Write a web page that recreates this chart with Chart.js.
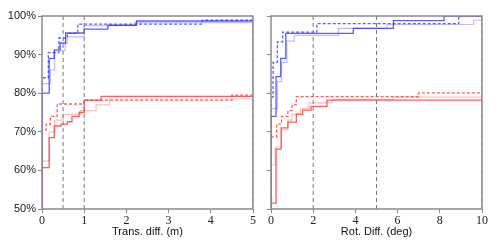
<!DOCTYPE html>
<html>
<head>
<meta charset="utf-8">
<script src="https://cdn.jsdelivr.net/npm/chart.js@4.4.1/dist/chart.umd.min.js"></script>
<style>
  html, body { margin: 0; padding: 0; background: #fff; }
  #wrap { position: relative; width: 500px; height: 250px; }
  canvas { position: absolute; top: 0; }
</style>
</head>
<body>
<div id="wrap">
  <canvas id="transChart" width="262" height="250" style="left:0"></canvas>
  <canvas id="rotChart" width="238" height="250" style="left:262px"></canvas>
</div>
<script>
// Step CDFs: [threshold, percent below]
const transBlueSolid  = [[0,0],[0,80],[0.17,89],[0.29,91.2],[0.43,93],[0.56,95.6],[1.0,96.6],[1.56,97.6],[2.24,98.7],[5,98.8]];
const transBlueDashed = [[0,0],[0,84],[0.15,90.5],[0.4,94.3],[0.6,95.5],[0.85,97.9],[3.8,98.9],[5,100]];
const transBlueLight  = [[0,0],[0,82.5],[0.2,86],[0.3,91],[0.55,93],[0.6,94.6],[1.0,97.5],[2.2,98.3],[5,98.5]];
const transRedSolid   = [[0,0],[0,60.7],[0.17,68.5],[0.29,71.5],[0.45,72],[0.6,72.6],[0.71,74],[0.88,75],[1.0,78.2],[1.4,79.2],[5,79.3]];
const transRedDashed  = [[0,0],[0,70.5],[0.1,72],[0.2,74],[0.36,77.2],[1.0,78.2],[4.5,79.5],[5,79.5]];
const transRedLight   = [[0,0],[0,62.4],[0.17,70],[0.3,73],[0.5,74.5],[0.9,75.5],[1.28,77],[1.6,78.5],[5,78.5]];

const rotBlueSolid  = [[0,0],[0,74],[0.24,84.3],[0.46,89],[0.7,95.5],[3.9,96.8],[5.8,98.8],[8.2,100],[10,100]];
const rotBlueDashed = [[0,0],[0,79],[0.1,88],[0.3,93.3],[0.55,95.8],[2.17,98],[8.9,100],[10,100]];
const rotBlueLight  = [[0,0],[0,76],[0.3,83],[0.5,88],[0.75,93.5],[1.1,95],[3.2,96.8],[5.5,97.8],[9.6,98.9],[10,99.5]];
const rotRedSolid   = [[0,0],[0,51.5],[0.24,65.5],[0.48,71],[0.8,72.5],[1.2,74.6],[1.5,75.6],[1.9,76.6],[2.65,78.2],[10,78.3]];
const rotRedDashed  = [[0,0],[0,68.7],[0.27,72],[0.5,74],[0.8,75.5],[1.0,77],[1.2,79.1],[7,80.1],[10,80.2]];
const rotRedLight   = [[0,0],[0,61.4],[0.2,66],[0.5,70.5],[0.8,73],[1.0,74.5],[1.4,76],[1.8,77.5],[2.9,78.4],[5.8,79],[10,79]];

// Dashed vertical reference lines
const transThresholds = [0.5, 1, 5];
const rotThresholds = [2, 5, 10];

const yTicks = [50, 60, 70, 80, 90, 100];
const transXTicks = [0, 1, 2, 3, 4, 5];
const rotXTicks = [0, 2, 4, 6, 8, 10];

const FRAME = '#8a8a8a';
const BLUE = 'rgba(40,40,255,0.75)';
const BLUE_LIGHT = 'rgba(40,40,255,0.3)';
const RED = 'rgba(255,40,40,0.75)';
const RED_LIGHT = 'rgba(255,40,40,0.3)';

// Draw the full box round the plot area
const framePlugin = {
  id: 'frame',
  afterDatasetsDraw(chart) {
    const { ctx, chartArea: a } = chart;
    ctx.save();
    ctx.strokeStyle = FRAME;
    ctx.lineWidth = 1.5;
    ctx.strokeRect(a.left, a.top, a.right - a.left, a.bottom - a.top);
    ctx.restore();
  }
};

// value holds until the next threshold, then jumps
function stepSet(points, color, dashed, width) {
  return {
    data: points.map(p => ({ x: p[0], y: p[1] })),
    borderColor: color,
    borderWidth: width || 1.3,
    borderDash: dashed ? [3, 2] : [],
    stepped: 'before',
    pointRadius: 0,
    fill: false
  };
}

function refLines(xs) {
  return xs.map(x => ({
    data: [{ x, y: 50 }, { x, y: 100 }],
    borderColor: '#777',
    borderWidth: 1,
    borderDash: [4, 3],
    pointRadius: 0,
    fill: false
  }));
}

function drawPanel(canvasId, series, thresholds, xTicks, xMax, title, showY, yWidth, padRight) {
  const ctx = document.getElementById(canvasId);
  return new Chart(ctx, {
    type: 'line',
    data: { datasets: [...refLines(thresholds), ...series] },
    options: {
      responsive: false,
      animation: false,
      layout: { padding: { top: 16, right: padRight, left: 0, bottom: 0 } },
      plugins: { legend: { display: false }, tooltip: { enabled: false } },
      scales: {
        x: {
          type: 'linear',
          min: 0,
          max: xMax,
          afterBuildTicks: s => { s.ticks = xTicks.map(v => ({ value: v })); },
          afterFit: s => { s.height = 41; },
          grid: { drawOnChartArea: false, tickLength: 4, color: FRAME },
          border: { display: false },
          ticks: { color: '#222', padding: 1, maxRotation: 0, font: { family: 'Liberation Serif', size: 12 } },
          title: {
            display: true, text: title, color: '#111',
            padding: { top: 0, bottom: 11 },
            font: { family: 'Liberation Sans', size: 11 }
          }
        },
        y: {
          min: 50,
          max: 100,
          afterBuildTicks: s => { s.ticks = yTicks.map(v => ({ value: v })); },
          afterFit: s => { s.width = yWidth; },
          grid: { drawOnChartArea: false, tickLength: 4, color: FRAME },
          border: { display: false },
          ticks: {
            color: '#222', padding: 2,
            font: { family: 'Liberation Sans', size: 11 },
            callback: v => showY ? v + '%' : ''
          }
        }
      }
    },
    plugins: [framePlugin]
  });
}

drawPanel('transChart', [
  stepSet(transRedLight, RED_LIGHT, false, 1.2),
  stepSet(transRedDashed, RED, true),
  stepSet(transRedSolid, RED, false),
  stepSet(transBlueLight, BLUE_LIGHT, false, 1.2),
  stepSet(transBlueDashed, BLUE, true),
  stepSet(transBlueSolid, BLUE, false)
], transThresholds, transXTicks, 5, 'Trans. diff. (m)', true, 42, 9);

drawPanel('rotChart', [
  stepSet(rotRedLight, RED_LIGHT, false, 1.2),
  stepSet(rotRedDashed, RED, true),
  stepSet(rotRedSolid, RED, false),
  stepSet(rotBlueLight, BLUE_LIGHT, false, 1.2),
  stepSet(rotBlueDashed, BLUE, true),
  stepSet(rotBlueSolid, BLUE, false)
], rotThresholds, rotXTicks, 10, 'Rot. Diff. (deg)', false, 9, 18);
</script>
</body>
</html>
